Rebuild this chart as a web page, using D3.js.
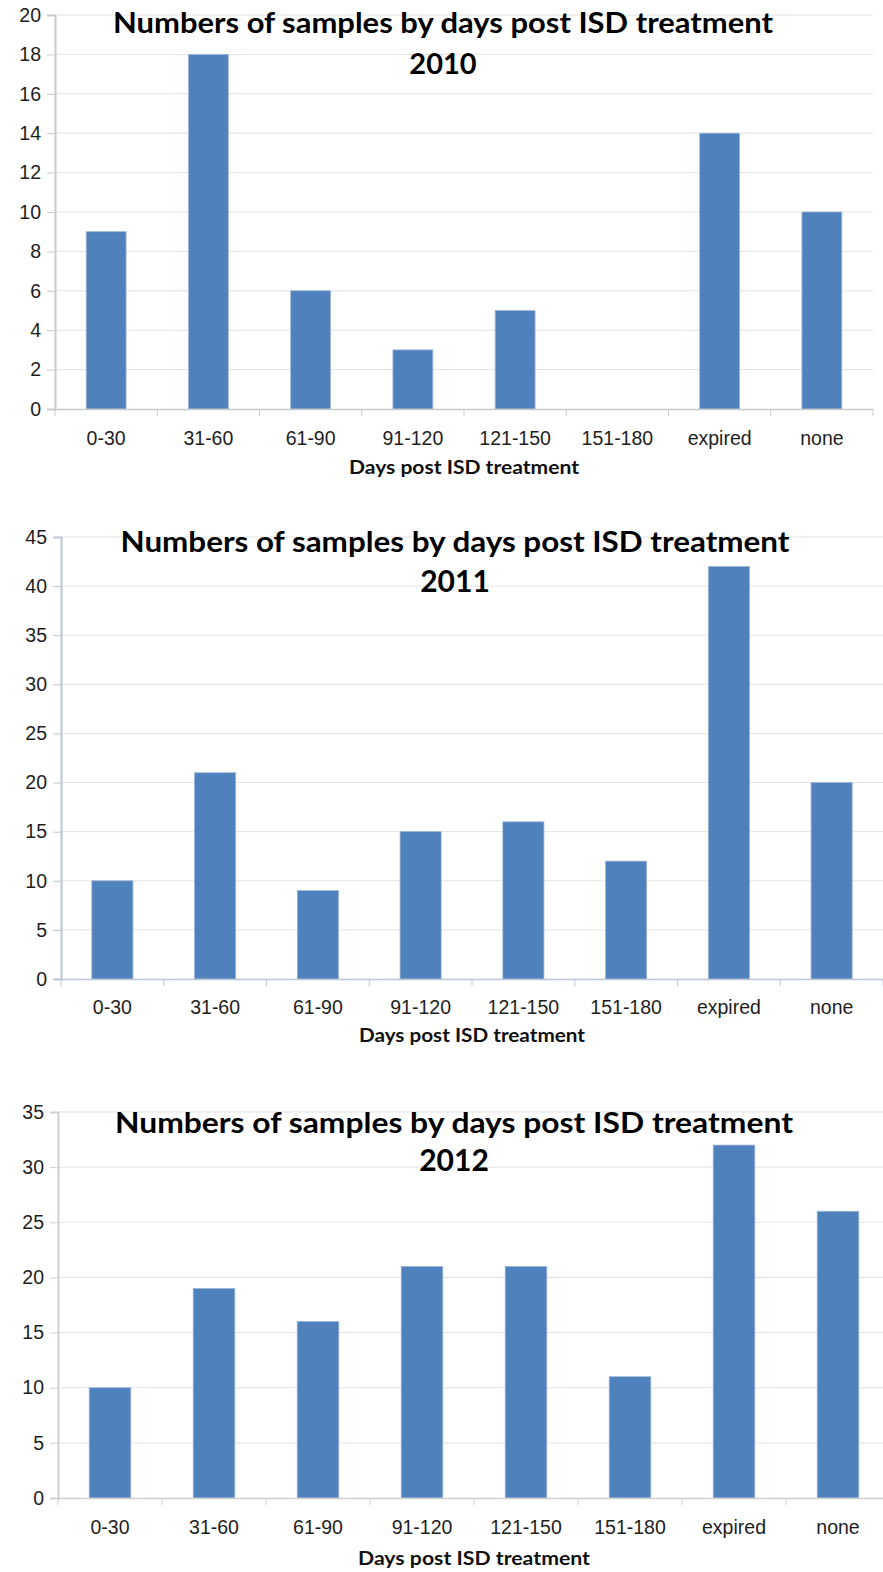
<!DOCTYPE html>
<html>
<head>
<meta charset="utf-8">
<script src="https://cdn.jsdelivr.net/npm/d3@7"></script>
<style>
  body { margin: 0; background: #fff; }
  svg { display: block; font-family: Lato, "Open Sans", sans-serif; }
  .tick text { fill: #1e1e1e; }
</style>
</head>
<body>
<div id="chart"></div>
<script>
// Data
const categories = ['0-30', '31-60', '61-90', '91-120', '121-150', '151-180', 'expired', 'none'];
const samples2010 = [9, 18, 6, 3, 5, 0, 14, 10];
const samples2011 = [10, 21, 9, 15, 16, 12, 42, 20];
const samples2012 = [10, 19, 16, 21, 21, 11, 32, 26];
const yTicks2010 = [0, 2, 4, 6, 8, 10, 12, 14, 16, 18, 20];
const yTicks2011 = [0, 5, 10, 15, 20, 25, 30, 35, 40, 45];
const yTicks2012 = [0, 5, 10, 15, 20, 25, 30, 35];
const titleText = 'Numbers of samples by days post ISD treatment';
const xTitle = 'Days post ISD treatment';

const width = 883, height = 1572;
const svg = d3.select('#chart').append('svg')
  .attr('width', width)
  .attr('height', height);

const panels = [
  { year: '2010', values: samples2010, ticks: yTicks2010,
    left: 55, right: 873, top: 15, bottom: 409, axisColor: '#c9c9c9',
    t1: 33, t2: 74, tx: 443, tw: 660, tsize: 28,
    labelY: 445, xTitleY: 474, xtw: 230, barPad: 0.61 },
  { year: '2011', values: samples2011, ticks: yTicks2011,
    left: 61, right: 883, top: 537, bottom: 979, axisColor: '#b9c6d8',
    t1: 552, t2: 592, tx: 455, tw: 669, tsize: 29,
    labelY: 1014, xTitleY: 1042, xtw: 226, barPad: 0.6 },
  { year: '2012', values: samples2012, ticks: yTicks2012,
    left: 58, right: 890, top: 1112, bottom: 1498, axisColor: '#d0d0d0',
    t1: 1133, t2: 1171, tx: 454, tw: 678, tsize: 29,
    labelY: 1534, xTitleY: 1565, xtw: 232, barPad: 0.6 }
];

function drawPanel(p) {
  const g = svg.append('g').attr('class', 'panel');

  const x = d3.scaleBand()
    .domain(categories)
    .range([p.left, p.right])
    .paddingInner(p.barPad)
    .paddingOuter(p.barPad / 2);

  const xb = d3.scaleBand()
    .domain(categories)
    .range([p.left, p.right]);

  const y = d3.scaleLinear()
    .domain([0, d3.max(p.ticks)])
    .range([p.bottom, p.top]);

  // gridlines
  g.append('g')
    .selectAll('line')
    .data(p.ticks.filter(t => t > 0))
    .join('line')
    .attr('x1', p.left)
    .attr('x2', p.right)
    .attr('y1', d => y(d))
    .attr('y2', d => y(d))
    .attr('stroke', '#e3e3e3')
    .attr('stroke-width', 1);

  // y axis
  const yAxis = d3.axisLeft(y).tickValues(p.ticks).tickSize(8).tickPadding(6);
  const gy = g.append('g')
    .attr('transform', 'translate(' + p.left + ',0)')
    .call(yAxis);
  gy.select('.domain').attr('stroke', p.axisColor).attr('stroke-width', 2);
  gy.selectAll('.tick line').attr('stroke', p.axisColor);
  gy.selectAll('.tick text').attr('font-size', 19.5);

  // bars
  g.append('g')
    .selectAll('rect')
    .data(p.values)
    .join('rect')
    .attr('x', (d, i) => x(categories[i]))
    .attr('width', x.bandwidth())
    .attr('y', d => y(d))
    .attr('height', d => p.bottom - y(d))
    .attr('fill', '#4f81bd')
    .attr('stroke', d => d > 0 ? '#9db5d8' : 'none')
    .attr('stroke-width', 0.8);

  // x axis
  const xAxis = d3.axisBottom(xb).tickSize(0).tickPadding(0);
  const gx = g.append('g')
    .attr('transform', 'translate(0,' + p.bottom + ')')
    .call(xAxis);
  gx.select('.domain').attr('stroke', p.axisColor).attr('stroke-width', 1.5);
  gx.selectAll('.tick text')
    .attr('font-size', 19.5)
    .attr('y', p.labelY - p.bottom)
    .attr('dy', 0);
  // category separators below the axis
  g.append('g')
    .selectAll('line')
    .data(categories.concat(['end']))
    .join('line')
    .attr('x1', (d, i) => i < categories.length ? xb(d) : p.right)
    .attr('x2', (d, i) => i < categories.length ? xb(d) : p.right)
    .attr('y1', p.bottom)
    .attr('y2', p.bottom + 7)
    .attr('stroke', p.axisColor);

  // x axis title
  g.append('text')
    .attr('x', (p.left + p.right) / 2)
    .attr('y', p.xTitleY)
    .attr('text-anchor', 'middle')
    .attr('font-weight', 'bold')
    .attr('font-size', 19)
    .attr('textLength', p.xtw)
    .attr('lengthAdjust', 'spacingAndGlyphs')
    .attr('fill', '#111')
    .text(xTitle);

  // chart title
  g.append('text')
    .attr('x', p.tx)
    .attr('y', p.t1)
    .attr('text-anchor', 'middle')
    .attr('font-weight', 'bold')
    .attr('font-size', p.tsize)
    .attr('textLength', p.tw)
    .attr('lengthAdjust', 'spacingAndGlyphs')
    .attr('fill', '#000')
    .text(titleText);
  g.append('text')
    .attr('x', p.tx)
    .attr('y', p.t2)
    .attr('text-anchor', 'middle')
    .attr('font-weight', 'bold')
    .attr('font-size', p.tsize + 1)
    .attr('fill', '#000')
    .text(p.year);
}

panels.forEach(drawPanel);
</script>
</body>
</html>
